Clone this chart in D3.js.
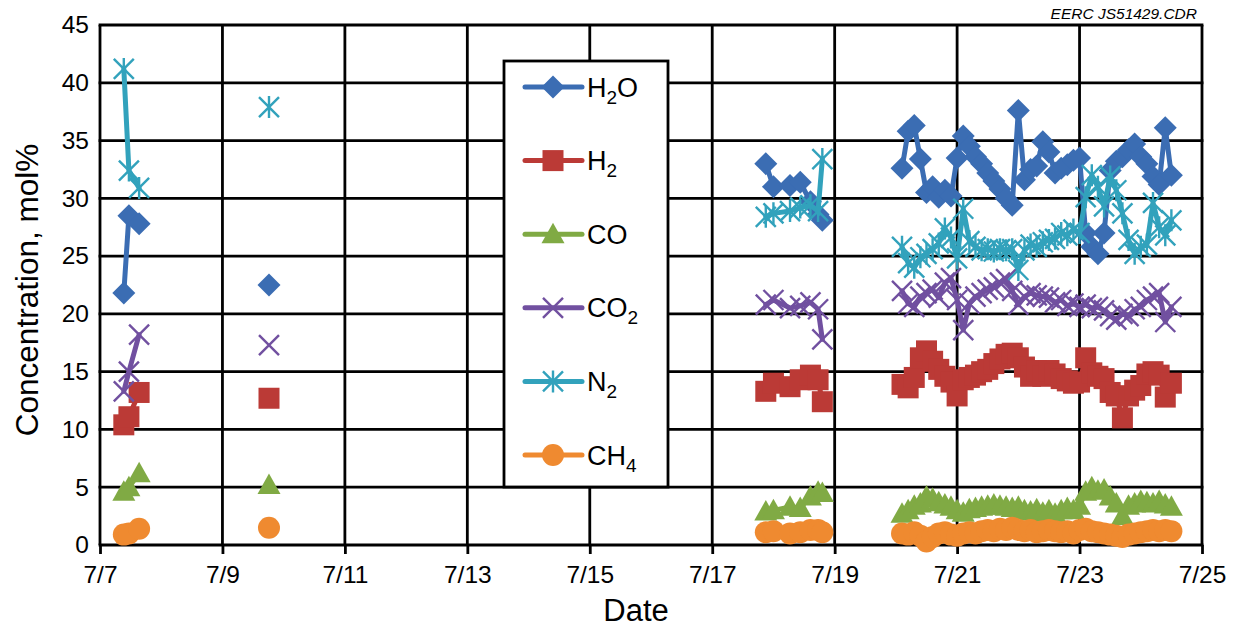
<!DOCTYPE html>
<html>
<head>
<meta charset="utf-8">
<script src="https://cdn.jsdelivr.net/npm/d3@7"></script>
<style>
  body { margin: 0; background: #fff; }
  svg { display: block; }
  text { font-family: "Liberation Sans", Arial, Helvetica, sans-serif; fill: #000; }
</style>
</head>
<body>
<svg id="chart" width="1239" height="634"></svg>
<script>
// Sample times (month/day hour:minute)
const sampleTimes = [
  "7/7 09:20", "7/7 11:20", "7/7 15:20",
  "7/9 18:15",
  "7/17 21:00", "7/18 00:00", "7/18 06:30", "7/18 10:30", "7/18 14:30", "7/18 17:30", "7/18 19:10",
  "7/20 02:24", "7/20 04:48", "7/20 07:12", "7/20 09:36", "7/20 12:00", "7/20 14:24", "7/20 16:48", "7/20 19:12", "7/20 21:36",
  "7/21 00:00", "7/21 02:24", "7/21 04:48", "7/21 07:12", "7/21 09:36", "7/21 12:00", "7/21 14:24", "7/21 16:48", "7/21 19:12", "7/21 21:36",
  "7/22 00:00", "7/22 02:24", "7/22 04:48", "7/22 07:12", "7/22 09:36", "7/22 12:00", "7/22 14:24", "7/22 16:48", "7/22 19:12", "7/22 21:36",
  "7/23 00:00", "7/23 02:24", "7/23 04:48", "7/23 07:12", "7/23 09:36", "7/23 12:00", "7/23 14:24", "7/23 16:48", "7/23 19:12", "7/23 21:36",
  "7/24 00:00", "7/24 02:24", "7/24 04:48", "7/24 07:12", "7/24 09:36", "7/24 12:00"
];

// Gas concentrations, mol%
const h2o = [
  21.8, 28.5, 27.8,
  22.5,
  33.0, 31.0, 31.1, 31.4, 29.7, 28.6, 28.1,
  32.6, 35.8, 36.3, 33.4, 30.5, 31.0, 30.1, 30.7, 30.2,
  33.5, 35.4, 34.5, 33.6, 33.0, 32.2, 31.5, 30.8, 30.0, 29.4,
  37.6, 31.6, 32.5, 32.8, 34.9, 34.0, 32.2, 32.6, 32.9, 33.3,
  33.5, 27.0, 25.8, 25.2, 27.0, 32.4, 33.2, 33.6, 34.2, 34.7,
  33.6, 33.0, 31.9, 31.2, 36.1, 32.0
];
const h2 = [
  10.4, 11.1, 13.2,
  12.7,
  13.3, 14.0, 13.7, 14.3, 14.7, 14.3, 12.4,
  13.9, 13.6, 14.5, 16.2, 16.8, 15.9, 15.2, 14.6, 14.1,
  12.9, 14.3, 14.5, 14.7, 15.0, 15.2, 15.7, 16.1, 16.5, 16.6,
  16.2, 15.4, 14.6, 15.1, 14.6, 15.1, 14.8, 14.4, 14.2, 14.0,
  14.1, 16.2, 14.9, 14.6, 14.4, 13.2, 12.9, 11.0, 12.9, 13.4,
  13.8, 14.8, 15.0, 14.7, 12.8, 14.0
];
const co = [
  4.6, 5.0, 6.2,
  5.2,
  2.9, 3.0, 3.3, 3.2, 4.2, 4.6, 4.5,
  2.7, 3.0, 3.4, 3.6, 4.2, 4.0, 3.7, 3.5, 3.3,
  3.0, 2.8, 3.1, 3.2, 3.3, 3.4, 3.5, 3.4, 3.3, 3.2,
  3.3, 3.0, 2.9, 3.1, 2.8, 3.0, 2.7, 3.0, 3.2, 3.0,
  3.4, 4.6, 5.0, 4.7, 4.8, 4.2, 3.6, 2.5, 3.4, 3.6,
  3.8, 3.7, 3.6, 3.8, 3.5, 3.3
];
const co2 = [
  13.3, 15.0, 18.2,
  17.3,
  20.8, 21.2, 20.5, 20.7, 21.0, 20.4, 17.8,
  22.0, 20.9, 20.6, 21.5, 21.8, 22.1, 21.4, 22.7, 23.1,
  21.2, 18.6, 20.9, 21.5, 21.8, 22.1, 22.3, 22.7, 23.0, 22.0,
  20.8, 21.5, 21.8, 21.6, 21.5, 21.4, 21.0, 21.2, 20.7, 20.9,
  20.6, 20.8, 20.5, 20.6, 20.3, 19.8, 19.5, 20.0, 19.8, 20.4,
  20.6, 21.2, 21.5, 21.8, 19.3, 20.6
];
const n2 = [
  41.2, 32.4, 30.9,
  37.9,
  28.4, 28.7, 28.9, 29.2, 29.4, 28.9, 33.4,
  25.8, 24.4, 24.0, 24.9, 25.2, 25.6, 26.1, 27.4, 26.6,
  24.8, 29.1, 26.3, 25.8, 25.5, 25.6, 25.4, 25.6, 25.5, 25.6,
  23.8, 25.5, 26.0, 25.8, 26.2, 26.4, 26.5, 27.0, 26.8, 27.3,
  27.0, 30.1, 32.0, 31.0, 29.3, 31.9, 30.7, 28.7, 26.4, 25.2,
  25.8, 26.0, 29.6, 27.5, 26.8, 28.1
];
const ch4 = [
  0.9, 1.0, 1.4,
  1.5,
  1.1, 1.2, 1.0, 1.1, 1.3, 1.3, 1.1,
  1.0, 0.9, 1.1, 0.8, 0.3, 0.7, 1.0, 1.1, 0.9,
  0.8, 1.0, 1.1, 1.0, 1.2, 1.3, 1.2, 1.4, 1.3, 1.5,
  1.3, 1.2, 1.3, 1.1, 1.2, 1.3, 1.2, 1.1, 1.2, 1.0,
  1.3, 1.4, 1.2, 1.1, 1.0, 0.9, 0.8, 0.7, 0.9, 1.0,
  1.1, 1.2, 1.3, 1.2, 1.3, 1.2
];

// Axis ticks
const xTickLabels = ["7/7", "7/9", "7/11", "7/13", "7/15", "7/17", "7/19", "7/21", "7/23", "7/25"];
const yTickValues = [0, 5, 10, 15, 20, 25, 30, 35, 40, 45];

// Series: name parts (text, isSubscript), values, colour, marker
const series = [
  { parts: [["H", 0], ["2", 1], ["O", 0]], values: h2o, color: "#3b6db3", marker: "diamond" },
  { parts: [["H", 0], ["2", 1]],           values: h2,  color: "#bb3a36", marker: "square" },
  { parts: [["CO", 0]],                    values: co,  color: "#80aa44", marker: "triangle" },
  { parts: [["CO", 0], ["2", 1]],          values: co2, color: "#7150a0", marker: "cross" },
  { parts: [["N", 0], ["2", 1]],           values: n2,  color: "#32a2bc", marker: "star" },
  { parts: [["CH", 0], ["4", 1]],          values: ch4, color: "#ef8a30", marker: "circle" }
];

const svg = d3.select("#chart");
const plot = { left: 100, right: 1202, top: 25, bottom: 545 };
const FONT = "Liberation Sans, Arial, sans-serif";

const parseTime = d3.timeParse("%m/%d %H:%M");
const parseDay = d3.timeParse("%m/%d");
const times = sampleTimes.map(parseTime);
const xTicks = xTickLabels.map(parseDay);

const x = d3.scaleTime()
  .domain([xTicks[0], xTicks[xTicks.length - 1]])
  .range([plot.left, plot.right]);
const y = d3.scaleLinear()
  .domain([0, 45])
  .range([plot.bottom, plot.top]);

// Grid
const grid = svg.append("g").attr("stroke", "#000").attr("stroke-width", 2.8);
grid.selectAll("line.h").data(yTickValues).join("line")
  .attr("x1", plot.left - 1.4).attr("x2", plot.right + 1.4)
  .attr("y1", d => y(d)).attr("y2", d => y(d));
grid.selectAll("line.v").data(xTicks).join("line")
  .attr("x1", d => x(d)).attr("x2", d => x(d))
  .attr("y1", plot.top).attr("y2", plot.bottom);

// Axes
const xAxis = svg.append("g")
  .attr("transform", `translate(0,${plot.bottom})`)
  .call(d3.axisBottom(x).tickValues(xTicks).tickFormat((d, i) => xTickLabels[i]).tickSize(9).tickPadding(12));
xAxis.select(".domain").remove();
xAxis.selectAll(".tick line").attr("stroke", "#000").attr("stroke-width", 2.8);
xAxis.selectAll(".tick text").attr("font-size", 24.5).attr("font-family", FONT).attr("fill", "#000");

const yAxis = svg.append("g")
  .attr("transform", `translate(${plot.left},0)`)
  .call(d3.axisLeft(y).tickValues(yTickValues).tickSize(0).tickPadding(11));
yAxis.select(".domain").remove();
yAxis.selectAll(".tick text").attr("font-size", 24.5).attr("font-family", FONT).attr("fill", "#000");

// Axis titles
svg.append("text")
  .attr("transform", `translate(38,290) rotate(-90)`)
  .attr("text-anchor", "middle")
  .attr("font-size", 31.5)
  .text("Concentration, mol%");
svg.append("text")
  .attr("x", 636).attr("y", 621)
  .attr("text-anchor", "middle")
  .attr("font-size", 31)
  .text("Date");

svg.append("text")
  .attr("x", 1197).attr("y", 19)
  .attr("text-anchor", "end")
  .attr("font-size", 15.5)
  .attr("font-style", "italic")
  .text("EERC JS51429.CDR");

// Marker drawing
function drawMarker(g, type, color) {
  switch (type) {
    case "diamond":
      g.append("path").attr("d", "M0,-11.5L11.5,0L0,11.5L-11.5,0Z").attr("fill", color);
      break;
    case "square":
      g.append("rect").attr("x", -10.5).attr("y", -10.5).attr("width", 21).attr("height", 21).attr("fill", color);
      break;
    case "triangle":
      g.append("path").attr("d", "M0,-11.5L11.5,9L-11.5,9Z").attr("fill", color);
      break;
    case "cross":
      g.append("path").attr("d", "M-10,-10L10,10M-10,10L10,-10")
        .attr("stroke", color).attr("stroke-width", 2.4).attr("fill", "none");
      break;
    case "star":
      g.append("path").attr("d", "M-10,-10L10,10M-10,10L10,-10M0,-11L0,11")
        .attr("stroke", color).attr("stroke-width", 2.4).attr("fill", "none");
      break;
    case "circle":
      g.append("circle").attr("r", 11).attr("fill", color);
      break;
  }
}

// Split the samples into runs wherever the gap exceeds one day
const runs = [];
times.forEach((t, i) => {
  if (i === 0 || (t - times[i - 1]) > 24 * 3600 * 1000) runs.push([]);
  runs[runs.length - 1].push(i);
});

const dataLayer = svg.append("g");
series.forEach(s => {
  const g = dataLayer.append("g");
  const line = d3.line().x(i => x(times[i])).y(i => y(s.values[i]));
  runs.forEach(run => {
    if (run.length > 1) {
      g.append("path")
        .attr("d", line(run))
        .attr("fill", "none")
        .attr("stroke", s.color)
        .attr("stroke-width", 5)
        .attr("stroke-linejoin", "round")
        .attr("stroke-linecap", "round");
    }
  });
  s.values.forEach((v, i) => {
    const m = g.append("g").attr("transform", `translate(${x(times[i])},${y(v)})`);
    drawMarker(m, s.marker, s.color);
  });
});

// Legend
const legend = svg.append("g");
legend.append("rect")
  .attr("x", 504).attr("y", 61).attr("width", 164).attr("height", 426)
  .attr("fill", "#fff").attr("stroke", "#000").attr("stroke-width", 2.8);
const rowY = d3.scalePoint().domain(d3.range(series.length)).range([87, 455]);
series.forEach((s, k) => {
  const cy = rowY(k);
  legend.append("line")
    .attr("x1", 525).attr("x2", 582).attr("y1", cy).attr("y2", cy)
    .attr("stroke", s.color).attr("stroke-width", 5).attr("stroke-linecap", "round");
  drawMarker(legend.append("g").attr("transform", `translate(553,${cy})`), s.marker, s.color);
  const t = legend.append("text").attr("x", 587).attr("y", cy + 9.5).attr("font-size", 27);
  s.parts.forEach(([txt, sub], j) => {
    const ts = t.append("tspan").text(txt);
    if (sub) ts.attr("font-size", 19).attr("dy", 7);
    else if (j > 0) ts.attr("dy", -7);
  });
});
</script>
</body>
</html>
